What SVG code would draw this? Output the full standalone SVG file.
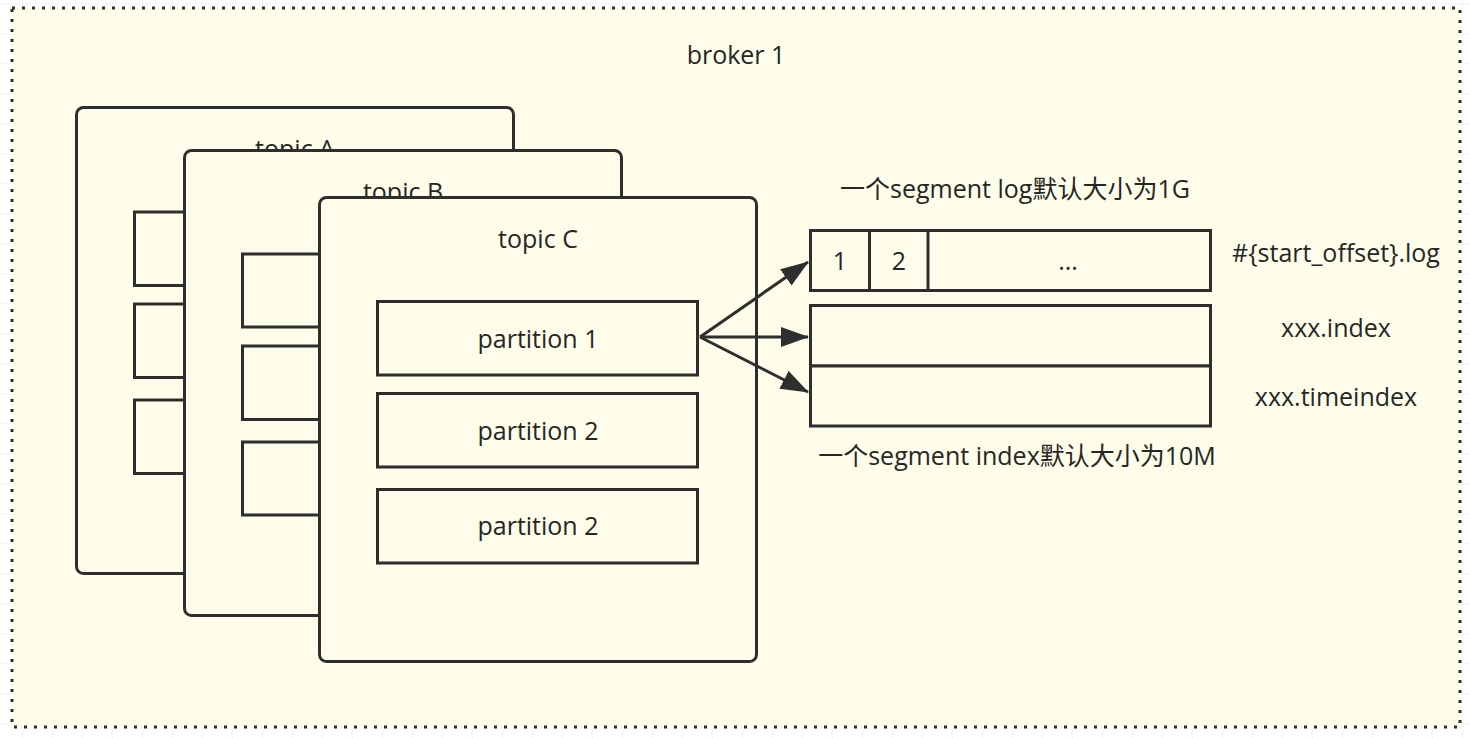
<svg xmlns="http://www.w3.org/2000/svg" width="1470" height="738" viewBox="0 0 1470 738">
  <style>
    .box { fill: #fefde9; stroke: #2e2e2e; stroke-width: 3; }
    .txt { font-family: "Open Sans", "Noto Sans CJK SC", sans-serif; font-size: 25px; fill: #262626; text-anchor: middle; }
    .conn { stroke: #2e2e2e; stroke-width: 3; fill: none; }
  </style>
  <defs>
    <pattern id="grid" x="21.7" y="3.3" width="30" height="30" patternUnits="userSpaceOnUse">
      <path d="M0,0 V30 M0,0 H30" fill="none" stroke="#e4e4e4" stroke-width="1"/>
    </pattern>
    <marker id="arrow" viewBox="0 0 28 20" refX="27" refY="10" markerWidth="28" markerHeight="20" markerUnits="userSpaceOnUse" orient="auto">
      <path d="M0,0 L28,10 L0,20 z" fill="#2e2e2e"/>
    </marker>
  </defs>

  <rect width="1470" height="738" fill="#ffffff"/>
  <rect width="1470" height="738" fill="url(#grid)"/>

  <g id="broker">
    <rect x="12" y="8" width="1448" height="719" fill="#fefde9" stroke="#2e2e2e" stroke-width="3" stroke-dasharray="3 7"/>
    <text class="txt" x="736" y="64">broker 1</text>
  </g>

  <g id="topicA">
    <rect class="box" x="76.5" y="107.5" width="437" height="466" rx="7"/>
    <text class="txt" x="295" y="158">topic A</text>
    <rect class="box" x="134.5" y="212" width="320" height="73.5"/>
    <rect class="box" x="134.5" y="304" width="320" height="73.5"/>
    <rect class="box" x="134.5" y="400" width="320" height="73.5"/>
  </g>

  <g id="topicB">
    <rect class="box" x="184.5" y="150.5" width="437" height="465" rx="7"/>
    <text class="txt" x="403" y="201">topic B</text>
    <rect class="box" x="242.5" y="254" width="320" height="73"/>
    <rect class="box" x="242.5" y="346" width="320" height="73.5"/>
    <rect class="box" x="242.5" y="442" width="320" height="73"/>
  </g>

  <g id="topicC">
    <rect class="box" x="319.5" y="197.5" width="437" height="464" rx="7"/>
    <text class="txt" x="538" y="248">topic C</text>
  </g>

  <g id="partition1">
    <rect class="box" x="377.5" y="301.5" width="320" height="73.5"/>
    <text class="txt" x="538" y="348">partition 1</text>
  </g>
  <g id="partition2a">
    <rect class="box" x="377.5" y="393.5" width="320" height="73.5"/>
    <text class="txt" x="538" y="440">partition 2</text>
  </g>
  <g id="partition2b">
    <rect class="box" x="377.5" y="489.5" width="320" height="73.5"/>
    <text class="txt" x="538" y="535">partition 2</text>
  </g>

  <g id="logSegment">
    <rect class="box" x="810.5" y="230.5" width="400" height="60"/>
    <line class="conn" x1="869.5" y1="230.5" x2="869.5" y2="290.5"/>
    <line class="conn" x1="928" y1="230.5" x2="928" y2="290.5"/>
    <text class="txt" x="840" y="270">1</text>
    <text class="txt" x="899" y="270">2</text>
    <text class="txt" x="1068" y="270">...</text>
    <text class="txt" x="1015" y="198">一个segment log默认大小为1G</text>
    <text class="txt" x="1336" y="262">#{start_offset}.log</text>
  </g>

  <g id="indexSegment">
    <rect class="box" x="810.5" y="305.5" width="400" height="60.5"/>
    <text class="txt" x="1336" y="337">xxx.index</text>
  </g>

  <g id="timeindexSegment">
    <rect class="box" x="810.5" y="366" width="400" height="60"/>
    <text class="txt" x="1336" y="406">xxx.timeindex</text>
    <text class="txt" x="1017" y="465">一个segment index默认大小为10M</text>
  </g>

  <g id="connectors">
    <line class="conn" x1="700" y1="337" x2="808" y2="262" marker-end="url(#arrow)"/>
    <line class="conn" x1="700" y1="337" x2="808" y2="337" marker-end="url(#arrow)"/>
    <line class="conn" x1="700" y1="337" x2="808" y2="392" marker-end="url(#arrow)"/>
  </g>
</svg>
